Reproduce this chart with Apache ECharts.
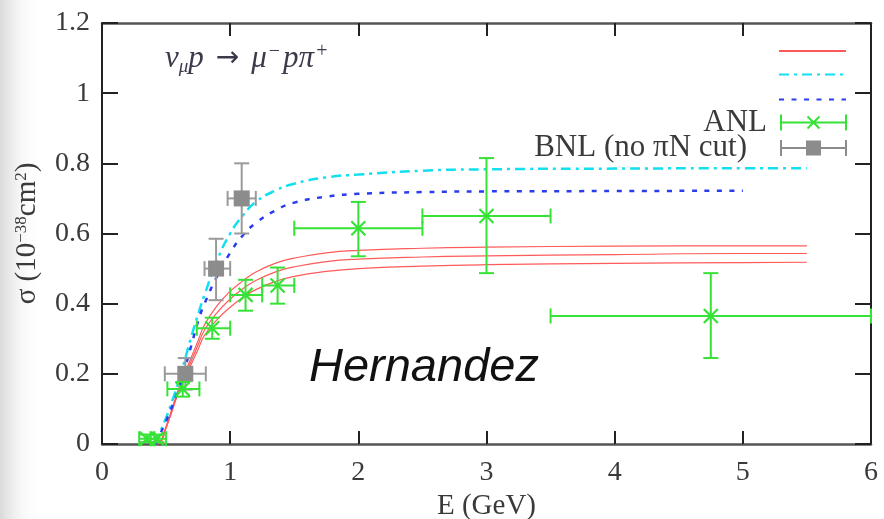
<!DOCTYPE html>
<html>
<head>
<meta charset="utf-8">
<script src="https://cdn.jsdelivr.net/npm/echarts@6/dist/echarts.min.js"></script>
<style>
  html, body { margin: 0; padding: 0; background: #fff; }
  #chart { width: 884px; height: 519px; }
</style>
</head>
<body>
<div id="chart"></div>
<script>
// Energy grid (GeV) for the model curves
const curveE  = [0.42, 0.45, 0.5,   0.55,  0.6,   0.65,  0.7,   0.75,  0.8,   0.9,   1.0,   1.1,   1.2,   1.35,  1.5,   1.75,  2.0,   2.5,   3.0,   4.0,   5.0,   5.5];
// Cross sections, 10^-38 cm^2
const cyanSigma    = [0,  0.03,  0.075, 0.125, 0.18,  0.245, 0.31,  0.37,  0.425, 0.525, 0.6,   0.652, 0.69,  0.722, 0.742, 0.76,  0.768, 0.779, 0.783, 0.785, 0.786, 0.786];
const blueSigma    = [0,  0.025, 0.065, 0.11,  0.16,  0.22,  0.285, 0.35,  0.40,  0.48,  0.545, 0.595, 0.63,  0.665, 0.688, 0.705, 0.713, 0.718, 0.72,  0.721, 0.722, null];
const redHighSigma = [0,  0.004, 0.05,  0.105, 0.16,  0.205, 0.25,  0.295, 0.34,  0.395, 0.435, 0.465, 0.49,  0.515, 0.53,  0.545, 0.552, 0.558, 0.561, 0.564, 0.565, 0.565];
const redMidSigma  = [0,  0.003, 0.048, 0.1,   0.155, 0.198, 0.24,  0.283, 0.325, 0.375, 0.413, 0.443, 0.466, 0.49,  0.505, 0.52,  0.527, 0.533, 0.536, 0.54,  0.543, 0.543];
const redLowSigma  = [0,  0.002, 0.045, 0.097, 0.15,  0.19,  0.23,  0.27,  0.31,  0.355, 0.39,  0.418, 0.44,  0.463, 0.478, 0.492, 0.5,   0.507, 0.511, 0.515, 0.517, 0.518];

// ANL measurements: energy, sigma, energy range, sigma range
const anlE      = [0.35, 0.43, 0.63, 0.86, 1.12, 1.37, 2.0,   3.0,   4.75];
const anlSigma  = [0.015, 0.015, 0.157, 0.33, 0.425, 0.452, 0.615, 0.65, 0.365];
const anlELow   = [0.29, 0.38, 0.51, 0.74, 1.0,  1.25, 1.5,   2.5,   3.5];
const anlEHigh  = [0.41, 0.50, 0.76, 1.0,  1.25, 1.5,  2.5,   3.5,   6.0];
const anlSLow   = [0.005, 0.005, 0.135, 0.30, 0.38, 0.40, 0.535, 0.487, 0.245];
const anlSHigh  = [0.027, 0.027, 0.177, 0.36, 0.468, 0.503, 0.69, 0.815, 0.487];

// BNL measurements (no πN cut)
const bnlE      = [0.65, 0.89, 1.09];
const bnlSigma  = [0.20, 0.50, 0.70];
const bnlELow   = [0.49, 0.80, 0.98];
const bnlEHigh  = [0.81, 1.00, 1.20];
const bnlSLow   = [0.155, 0.41, 0.60];
const bnlSHigh  = [0.245, 0.585, 0.80];

// Axis ticks
const xTicks = [0, 1, 2, 3, 4, 5, 6];
const yTicks = [0, 0.2, 0.4, 0.6, 0.8, 1, 1.2];

// Legend entries: series name and shown text
const legendNames = ['model band', 'model dash-dot', 'model dotted', 'ANL', 'BNL'];
const legendTexts = ['', '', '', 'ANL', 'BNL (no πN cut)'];

const SERIF = "'Liberation Serif', 'Times New Roman', serif";

function pairs(xs, ys) {
  return xs.map((x, i) => [x, ys[i]]);
}
function rows(e, s, el, eh, sl, sh) {
  return e.map((v, i) => [v, s[i], el[i], eh[i], sl[i], sh[i]]);
}

function errorBars(markerKind, barColor, markColor) {
  return function (params, api) {
    const e = api.value(0), s = api.value(1);
    const c = api.coord([e, s]);
    const l = api.coord([api.value(2), s]);
    const r = api.coord([api.value(3), s]);
    const b = api.coord([e, api.value(4)]);
    const t = api.coord([e, api.value(5)]);
    const cap = 7.5;
    const seg = (x1, y1, x2, y2, col, w) => ({
      type: 'line',
      shape: { x1, y1, x2, y2 },
      style: { stroke: col, lineWidth: w }
    });
    const kids = [
      seg(l[0], l[1], r[0], r[1], barColor, 2),
      seg(l[0], l[1] - cap, l[0], l[1] + cap, barColor, 2),
      seg(r[0], r[1] - cap, r[0], r[1] + cap, barColor, 2),
      seg(b[0], b[1], t[0], t[1], barColor, 2),
      seg(b[0] - cap, b[1], b[0] + cap, b[1], barColor, 2),
      seg(t[0] - cap, t[1], t[0] + cap, t[1], barColor, 2)
    ];
    if (markerKind === 'cross') {
      const h = 7;
      kids.push(seg(c[0] - h, c[1] - h, c[0] + h, c[1] + h, markColor, 2.2));
      kids.push(seg(c[0] - h, c[1] + h, c[0] + h, c[1] - h, markColor, 2.2));
    } else {
      const h = 8;
      kids.push({
        type: 'rect',
        shape: { x: c[0] - h, y: c[1] - h, width: 2 * h, height: 2 * h },
        style: { fill: markColor }
      });
    }
    return { type: 'group', children: kids };
  };
}

// Legend icons drawn in a 67 x 16 box
const anlIcon = 'path://M0 7L67 7L67 9L0 9Z M0 0L2 0L2 16L0 16Z M65 0L67 0L67 16L65 16Z ' +
  'M28.2 1.3L40.2 13.3L38.8 14.7L26.8 2.7Z M38.8 1.3L40.2 2.7L28.2 14.7L26.8 13.3Z';
const bnlIcon = 'path://M0 7L67 7L67 9L0 9Z M0 0L2 0L2 16L0 16Z M65 0L67 0L67 16L65 16Z ' +
  'M26 0.5L41 0.5L41 15.5L26 15.5Z';

const green = '#36e236';
const grey = '#8c8c8c';
const cyan = '#12e0f0';
const blue = '#2a3cf0';
const red = '#ff5a5a';
const ink = '#3a3a3a';

const axisLineX = { show: true, onZero: false, lineStyle: { color: '#555', width: 2.5 } };
const axisLineY = { show: true, onZero: false, lineStyle: { color: '#222', width: 2 } };

// One legend block per key row, stacked down the top right corner
const legendRowTop = [44.5, 68, 93, 107, 132.5];
const legendTextPad = [0, 0, 0, 8, 28];
const legendItem = [
  { itemStyle: { opacity: 0 } },
  { itemStyle: { opacity: 0 } },
  { itemStyle: { opacity: 0 } },
  { icon: anlIcon, itemStyle: { color: green } },
  { icon: bnlIcon, itemStyle: { color: grey } }
];
const legends = legendNames.map((name, i) => ({
  orient: 'vertical',
  align: 'right',
  right: 37,
  top: legendRowTop[i],
  padding: 0,
  itemWidth: 67,
  itemHeight: 16,
  selectedMode: false,
  formatter: () => legendTexts[i],
  textStyle: {
    fontFamily: SERIF, fontSize: 31, color: ink, lineHeight: 16,
    padding: [0, legendTextPad[i], 0, 0]
  },
  data: [Object.assign({ name }, legendItem[i])]
}));

const chart = echarts.init(document.getElementById('chart'), null, { renderer: 'canvas' });

const redLine = { color: red, width: 1.2 };
const SMOOTH = 0.5;

chart.setOption({
  animation: false,
  backgroundColor: '#ffffff',
  grid: { left: 102, right: 13, top: 23, bottom: 75, containLabel: false, outerBoundsMode: 'none' },
  xAxis: [
    {
      type: 'value', min: xTicks[0], max: xTicks[xTicks.length - 1], interval: 1,
      position: 'bottom',
      name: 'E (GeV)', nameLocation: 'middle', nameGap: 46,
      nameTextStyle: { fontFamily: SERIF, fontSize: 29, color: ink },
      axisLine: axisLineX,
      axisTick: { inside: true, length: 13, lineStyle: { color: '#222', width: 2 } },
      axisLabel: { margin: 15, fontFamily: SERIF, fontSize: 28, color: ink },
      splitLine: { show: false }
    },
    {
      type: 'value', min: xTicks[0], max: xTicks[xTicks.length - 1], interval: 1,
      position: 'top',
      axisLine: axisLineX,
      axisTick: { inside: true, length: 13, lineStyle: { color: '#222', width: 2 } },
      axisLabel: { show: false },
      splitLine: { show: false }
    }
  ],
  yAxis: [
    {
      type: 'value', min: yTicks[0], max: yTicks[yTicks.length - 1], interval: 0.2,
      position: 'left',
      name: 'σ (10{s|−38}cm{s|2})', nameLocation: 'middle', nameGap: 60,
      nameTextStyle: {
        fontFamily: SERIF, fontSize: 29, color: ink,
        rich: { s: { fontFamily: SERIF, fontSize: 17, color: ink, verticalAlign: 'top' } }
      },
      axisLine: axisLineY,
      axisTick: { inside: true, length: 16, lineStyle: { color: '#222', width: 2 } },
      axisLabel: { margin: 12, fontFamily: SERIF, fontSize: 28, color: ink },
      splitLine: { show: false }
    },
    {
      type: 'value', min: yTicks[0], max: yTicks[yTicks.length - 1], interval: 0.2,
      position: 'right',
      axisLine: axisLineY,
      axisTick: { inside: true, length: 16, lineStyle: { color: '#222', width: 2 } },
      axisLabel: { show: false },
      splitLine: { show: false }
    }
  ],
  legend: legends,
  graphic: [
    {
      type: 'rect', left: 0, top: 0, z: -10, silent: true,
      shape: { width: 40, height: 519 },
      style: {
        fill: new echarts.graphic.LinearGradient(0, 0, 1, 0, [
          { offset: 0, color: 'rgba(205,205,205,0.75)' },
          { offset: 1, color: 'rgba(255,255,255,0)' }
        ])
      }
    },
    {
      type: 'text', left: 165, top: 42, z: 10,
      style: {
        text: '{i|ν}{sub|μ}{i|p}{ar|→}{i|μ}{sup|−}{i|pπ}{sup|+}',
        fill: '#3a3a4a',
        rich: {
          i: { fontFamily: SERIF, fontStyle: 'italic', fontSize: 31, color: '#3a3a4a', lineHeight: 34 },
          sub: { fontFamily: SERIF, fontStyle: 'italic', fontSize: 19, color: '#3a3a4a', verticalAlign: 'bottom', lineHeight: 30 },
          sup: { fontFamily: SERIF, fontSize: 20, color: '#3a3a4a', verticalAlign: 'top', lineHeight: 22, padding: [0, 3, 0, 2] },
          ar: { fontFamily: "'DejaVu Sans', sans-serif", fontSize: 28, color: '#3a3a4a', padding: [0, 12, 0, 12], lineHeight: 34 }
        }
      }
    },
    {
      type: 'text', x: 309, y: 368, z: 10,
      style: {
        text: 'Hernandez',
        fontFamily: "'Liberation Sans', Arial, sans-serif",
        fontStyle: 'italic',
        fontSize: 47,
        fill: '#111',
        verticalAlign: 'middle',
        align: 'left'
      }
    }
  ],
  series: [
    {
      name: legendNames[0], type: 'line', data: pairs(curveE, redHighSigma),
      smooth: SMOOTH, symbol: 'none', lineStyle: redLine, itemStyle: { color: red }, z: 2
    },
    {
      name: legendNames[0], type: 'line', data: pairs(curveE, redMidSigma),
      smooth: SMOOTH, symbol: 'none', lineStyle: redLine, itemStyle: { color: red }, z: 2
    },
    {
      name: legendNames[0], type: 'line', data: pairs(curveE, redLowSigma),
      smooth: SMOOTH, symbol: 'none', lineStyle: redLine, itemStyle: { color: red }, z: 2
    },
    {
      name: legendNames[1], type: 'line', data: pairs(curveE, cyanSigma),
      smooth: SMOOTH, symbol: 'none',
      lineStyle: { color: cyan, width: 2.5, type: [10, 5, 3, 5] },
      itemStyle: { color: cyan }, z: 2
    },
    {
      name: legendNames[2], type: 'line', data: pairs(curveE, blueSigma),
      smooth: SMOOTH, symbol: 'none', connectNulls: false,
      lineStyle: { color: blue, width: 2.5, type: [5, 7.5] },
      itemStyle: { color: blue }, z: 2
    },
    {
      name: legendNames[4], type: 'custom', z: 3,
      itemStyle: { color: grey },
      renderItem: errorBars('square', '#9a9a9a', grey),
      encode: { x: 0, y: 1 },
      data: rows(bnlE, bnlSigma, bnlELow, bnlEHigh, bnlSLow, bnlSHigh)
    },
    {
      name: legendNames[3], type: 'custom', z: 4,
      itemStyle: { color: green },
      renderItem: errorBars('cross', green, green),
      encode: { x: 0, y: 1 },
      data: rows(anlE, anlSigma, anlELow, anlEHigh, anlSLow, anlSHigh)
    }
  ]
});
</script>
</body>
</html>
